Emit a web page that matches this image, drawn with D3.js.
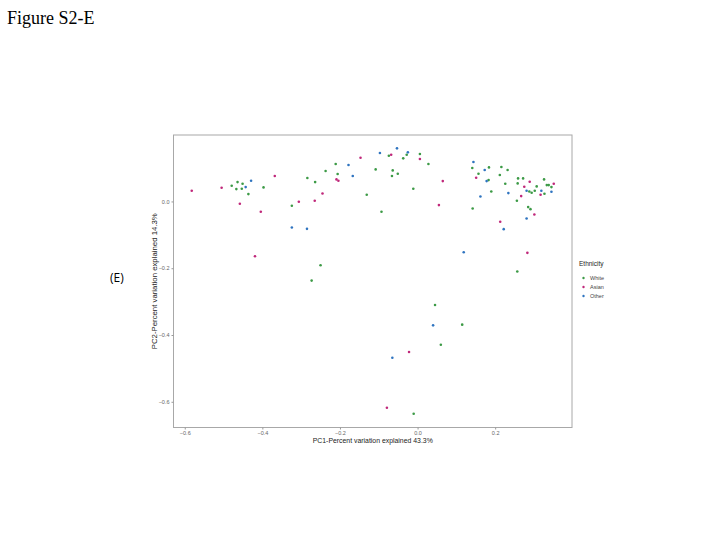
<!DOCTYPE html>
<html>
<head>
	<meta charset="utf-8">
	<title>Figure S2-E</title>
	<script src="https://cdn.jsdelivr.net/npm/d3@7"></script>
	<style type="text/css">
	body { margin: 0; background: #fff; }
	svg { display: block; }
	.tick line { stroke: #999; }
	.domain { display: none; }
	.tick text { fill: #666; font: 5.5px Arial, "Liberation Sans", sans-serif; }
	</style>
</head>
<body>
	<svg></svg>
<script>
	// PCA scores, one list per ethnicity group
	var groups = ["White", "Asian", "Other"];

	var white_pc1 = [-0.479,-0.464,-0.451,-0.467,-0.453,-0.436,-0.397,-0.324,-0.284,-0.264,-0.237,-0.211,-0.206,-0.250,-0.273,
		-0.131,-0.108,-0.093,-0.074,-0.064,-0.066,-0.051,-0.037,-0.028,0.006,0.028,-0.011,0.141,0.157,0.184,0.183,0.190,0.142,
		0.216,0.232,0.212,0.226,0.259,0.272,0.258,0.256,0.288,0.294,0.302,0.307,0.285,0.291,0.327,0.326,0.333,0.338,0.345,
		0.257,0.045,0.115,0.060,-0.010];
	var white_pc2 = [0.047,0.058,0.053,0.037,0.038,0.022,0.042,-0.013,0.070,0.058,0.091,0.112,0.082,-0.191,-0.237,
		0.020,0.096,-0.031,0.137,0.093,0.076,0.083,0.129,0.140,0.142,0.112,0.038,0.100,0.083,0.102,0.064,0.030,-0.021,
		0.103,0.094,0.079,0.053,0.069,0.069,0.054,0.002,0.030,0.026,0.032,0.045,-0.017,-0.023,0.023,0.066,0.049,0.049,0.043,
		-0.210,-0.310,-0.369,-0.429,-0.636];

	var asian_pc1 = [-0.582,-0.505,-0.368,-0.458,-0.404,-0.419,-0.306,-0.265,-0.245,-0.209,-0.204,-0.147,-0.068,0.006,
		0.065,0.055,0.151,0.213,0.275,0.289,0.267,0.301,0.317,0.351,0.283,-0.022,-0.079];
	var asian_pc2 = [0.032,0.041,0.076,-0.007,-0.031,-0.164,-0.001,0.002,0.024,0.066,0.062,0.131,0.140,0.127,
		0.061,-0.011,0.071,-0.061,0.044,0.059,0.016,-0.039,0.020,0.053,-0.154,-0.451,-0.618];

	var other_pc1 = [-0.429,-0.443,-0.324,-0.285,-0.178,-0.167,-0.097,-0.053,-0.025,0.144,0.173,0.178,0.162,0.234,0.222,
		0.281,0.281,0.319,0.345,0.119,0.040,-0.065];
	var other_pc2 = [0.062,0.043,-0.078,-0.082,0.109,0.076,0.145,0.159,0.147,0.118,0.094,0.061,0.015,0.025,-0.083,
		0.032,-0.051,0.032,0.029,-0.152,-0.371,-0.468];

	var x_ticks = [-0.6, -0.4, -0.2, 0.0, 0.2];
	var y_ticks = [0.0, -0.2, -0.4, -0.6];

	var colors = {White: "#3c9a46", Asian: "#c0287a", Other: "#2f74c0"};

	function pairs(name, xs, ys) {
		return xs.map(function(v, i) { return {group: name, pc1: v, pc2: ys[i]}; });
	}
	var points = pairs("White", white_pc1, white_pc2)
		.concat(pairs("Asian", asian_pc1, asian_pc2))
		.concat(pairs("Other", other_pc1, other_pc2));

	var panel = {left: 173.5, top: 135, right: 572, bottom: 427.5};

	var x = d3.scaleLinear().domain([-0.629, 0.398]).range([panel.left, panel.right]);
	var y = d3.scaleLinear().domain([0.199, -0.677]).range([panel.top, panel.bottom]);

	var svg = d3.select("svg").attr("width", 720).attr("height", 540);

	svg.append("text")
		.attr("x", 7).attr("y", 24)
		.style("font", "18px 'Liberation Serif', 'Times New Roman', serif")
		.text("Figure S2-E");

	svg.append("text")
		.attr("x", 110).attr("y", 282)
		.style("font", "12px 'Open Sans', 'Liberation Sans', sans-serif")
		.text("(E)");

	// panel
	svg.append("rect")
		.attr("x", panel.left).attr("y", panel.top)
		.attr("width", panel.right - panel.left).attr("height", panel.bottom - panel.top)
		.attr("fill", "#fff").attr("stroke", "#a8a8a8").attr("stroke-width", 1);

	svg.append("g")
		.attr("transform", "translate(0," + panel.bottom + ")")
		.call(d3.axisBottom(x).tickValues(x_ticks).tickFormat(d3.format(".1f")).tickSize(2).tickPadding(2));

	svg.append("g")
		.attr("transform", "translate(" + panel.left + ",0)")
		.call(d3.axisLeft(y).tickValues(y_ticks).tickFormat(d3.format(".1f")).tickSize(2).tickPadding(2));

	svg.append("text")
		.attr("x", (panel.left + panel.right) / 2).attr("y", 443)
		.attr("text-anchor", "middle")
		.attr("textLength", 120).attr("lengthAdjust", "spacingAndGlyphs")
		.style("font", "7px Arial, 'Liberation Sans', sans-serif").style("fill", "#222")
		.text("PC1-Percent variation explained 43.3%");

	svg.append("text")
		.attr("transform", "translate(157," + (panel.top + panel.bottom) / 2 + ") rotate(-90)")
		.attr("text-anchor", "middle")
		.attr("textLength", 136).attr("lengthAdjust", "spacingAndGlyphs")
		.style("font", "7px Arial, 'Liberation Sans', sans-serif").style("fill", "#222")
		.text("PC2-Percent variation explained 14.3%");

	svg.append("g").selectAll("circle")
		.data(points)
		.enter()
		.append("circle")
		.attr("cx", function(d) { return x(d.pc1); })
		.attr("cy", function(d) { return y(d.pc2); })
		.attr("r", 1.3)
		.attr("fill", function(d) { return colors[d.group]; });

	// legend
	var legend = svg.append("g").attr("transform", "translate(579,0)");
	legend.append("text")
		.attr("x", 0).attr("y", 266)
		.style("font", "6.5px Arial, 'Liberation Sans', sans-serif").style("fill", "#222")
		.text("Ethnicity");
	var items = legend.selectAll("g.item")
		.data(groups)
		.enter()
		.append("g")
		.attr("class", "item")
		.attr("transform", function(d, i) { return "translate(0," + (278 + i * 9) + ")"; });
	items.append("circle")
		.attr("cx", 4.5).attr("cy", 0).attr("r", 1.2)
		.attr("fill", function(d) { return colors[d]; });
	items.append("text")
		.attr("x", 11).attr("y", 2)
		.style("font", "5.5px Arial, 'Liberation Sans', sans-serif").style("fill", "#444")
		.text(function(d) { return d; });
</script>
</body>
</html>
